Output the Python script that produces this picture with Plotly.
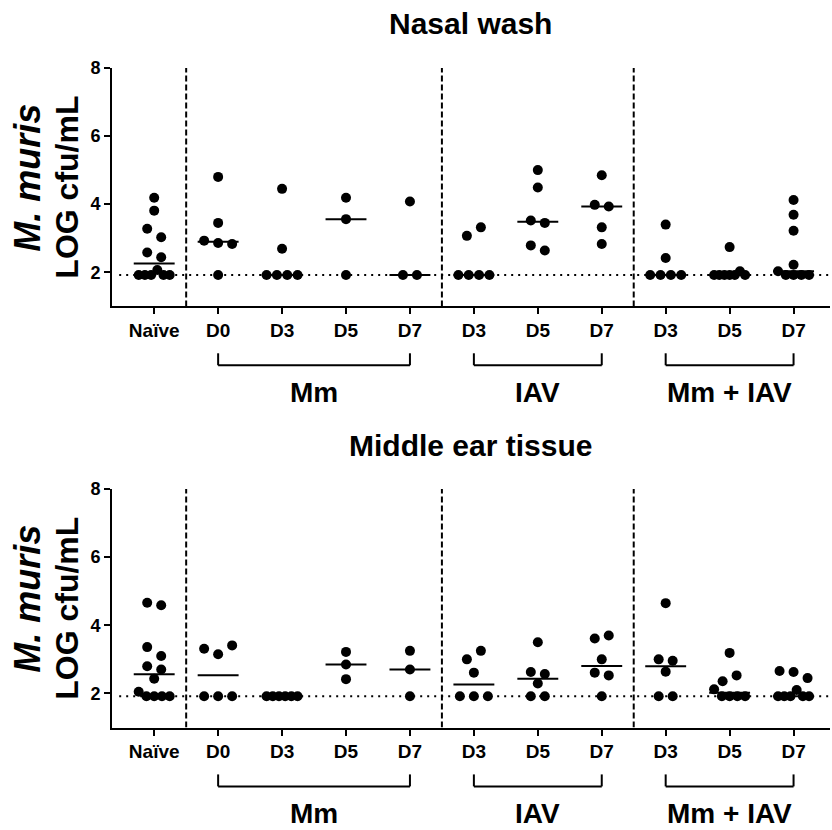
import numpy as np
import plotly.graph_objects as go

# ---------------- data ----------------
LOD = 1.92
categories = ["Naïve", "D0", "D3", "D5", "D7", "D3", "D5", "D7", "D3", "D5", "D7"]
group_labels = ["Mm", "IAV", "Mm + IAV"]
group_spans = [(1, 4), (5, 7), (8, 10)]
separators = [0.5, 4.5, 7.5]
panel_titles = ["Nasal wash", "Middle ear tissue"]
y_ticks = [2, 4, 6, 8]

# Nasal wash (log cfu/mL), listed left-to-right within each dot row
nw_naive = [1.92, 1.92, 1.92, 2.07, 1.92, 1.92, 2.58, 2.44, 3.28, 3.03, 3.81, 4.19]
nw_mm_d0 = [1.92, 2.93, 2.86, 2.83, 3.45, 4.80]
nw_mm_d3 = [1.92, 1.92, 1.92, 1.92, 2.69, 4.45]
nw_mm_d5 = [1.92, 3.56, 4.19]
nw_mm_d7 = [1.92, 1.92, 4.08]
nw_iav_d3 = [1.92, 1.92, 1.92, 1.92, 3.07, 3.32]
nw_iav_d5 = [2.79, 2.64, 3.52, 3.45, 4.49, 5.00]
nw_iav_d7 = [2.83, 3.32, 3.98, 3.93, 4.85]
nw_mi_d3 = [1.92, 1.92, 1.92, 1.92, 2.42, 3.40]
nw_mi_d5 = [1.92, 1.92, 1.92, 1.92, 1.92, 2.03, 1.92, 2.74]
nw_mi_d7 = [2.03, 1.92, 1.92, 1.92, 1.92, 2.22, 3.22, 3.69, 4.12]

# Middle ear tissue (log cfu/mL)
me_naive = [2.05, 1.92, 1.92, 1.92, 1.92, 2.43, 2.80, 2.70, 3.36, 3.10, 4.66, 4.59]
me_mm_d0 = [1.92, 1.92, 1.92, 3.31, 3.15, 3.41]
me_mm_d3 = [1.92, 1.92, 1.92, 1.92, 1.92, 1.92]
me_mm_d5 = [3.22, 2.42, 2.85]
me_mm_d7 = [1.92, 2.70, 3.25]
me_iav_d3 = [3.00, 3.25, 2.61, 1.92, 1.92, 1.92]
me_iav_d5 = [2.29, 2.63, 2.57, 3.50, 1.92, 1.92]
me_iav_d7 = [3.61, 3.70, 3.00, 2.61, 2.53, 1.92]
me_mi_d3 = [3.00, 2.96, 2.64, 1.92, 1.92, 4.65]
me_mi_d5 = [2.12, 1.92, 1.92, 1.92, 1.92, 2.36, 2.53, 3.19]
me_mi_d7 = [1.92, 1.92, 1.92, 2.10, 1.92, 1.92, 2.66, 2.63, 2.45]

nasal_wash = [nw_naive, nw_mm_d0, nw_mm_d3, nw_mm_d5, nw_mm_d7, nw_iav_d3,
              nw_iav_d5, nw_iav_d7, nw_mi_d3, nw_mi_d5, nw_mi_d7]
middle_ear = [me_naive, me_mm_d0, me_mm_d3, me_mm_d5, me_mm_d7, me_iav_d3,
              me_iav_d5, me_iav_d7, me_mi_d3, me_mi_d5, me_mi_d7]
panels = [nasal_wash, middle_ear]

# ---------------- layout geometry ----------------
W, H = 832, 830
X_PX = (112, 830)
X_RANGE = [-0.66, 10.57]
Y_RANGE = [1, 8]
Y_PX = [(66, 305), (488, 727)]          # top/bottom pixel rows of each plot
PANEL_SHIFT = 422
FONT = "Liberation Sans, Arial, Helvetica, sans-serif"
PX_PER_CAT = (X_PX[1] - X_PX[0]) / (X_RANGE[1] - X_RANGE[0])


def py(px):
    # small empirical correction of the vertical placement
    adj = (px - 8) / 0.99
    return 1 - adj / H


def px_x(px):
    return px / W


def swarm_offsets(values, tol=0.265, max_step=14.0, max_half=15.5):
    """Prism-like row spreading: nearby values share a row, spread symmetrically."""
    n = len(values)
    order = sorted(range(n), key=lambda i: values[i])
    rows = []
    for i in order:
        if rows and values[i] - values[rows[-1][0]] <= tol + 1e-9:
            rows[-1].append(i)
        else:
            rows.append([i])
    offs = [0.0] * n
    for r in rows:
        k = len(r)
        if k == 1:
            continue
        step = min(max_step, 2 * max_half / (k - 1))
        for j, i in enumerate(sorted(r)):
            offs[i] = (j - (k - 1) / 2) * step
    return offs


fig = go.Figure()
shapes = []
annotations = []

for p, groups in enumerate(panels):
    xa = "x" if p == 0 else "x2"
    ya = "y" if p == 0 else "y2"
    xs, ys, mx, my = [], [], [], []
    for gi, vals in enumerate(groups):
        offs = swarm_offsets(vals)
        for v, o in zip(vals, offs):
            xs.append(gi + o / PX_PER_CAT)
            ys.append(v)
        med = float(np.median(vals))
        mx += [gi - 0.32, gi + 0.32, None]
        my += [med, med, None]
    # limit of detection dotted line
    shapes.append(dict(type="line", xref=f"{xa} domain", yref=ya, x0=0.01, x1=1,
                       y0=LOD, y1=LOD, line=dict(color="black", width=2, dash="2px,5px")))
    # group separators
    for s in separators:
        shapes.append(dict(type="line", xref=xa, yref=ya, x0=s, x1=s, y0=Y_RANGE[0], y1=Y_RANGE[1],
                           line=dict(color="black", width=2, dash="6px,3px")))
    fig.add_trace(go.Scatter(x=mx, y=my, mode="lines", xaxis=xa, yaxis=ya,
                             line=dict(color="black", width=2), hoverinfo="skip",
                             showlegend=False))
    fig.add_trace(go.Scatter(x=xs, y=ys, mode="markers", xaxis=xa, yaxis=ya,
                             marker=dict(color="black", size=10, line=dict(width=0)),
                             showlegend=False))

    off = p * PANEL_SHIFT
    # brackets + group labels
    for (a, b), lab in zip(group_spans, group_labels):
        yb = py(364 + off)
        yt = py(352 + off)
        lw = dict(color="black", width=2)
        shapes.append(dict(type="line", xref=xa, yref="paper", x0=a, x1=b, y0=yb, y1=yb, line=lw))
        shapes.append(dict(type="line", xref=xa, yref="paper", x0=a, x1=a, y0=yb, y1=yt, line=lw))
        shapes.append(dict(type="line", xref=xa, yref="paper", x0=b, x1=b, y0=yb, y1=yt, line=lw))
        annotations.append(dict(text=f"<b>{lab}</b>", xref=xa, yref="paper", x=(a + b) / 2,
                                y=py(391 + off), showarrow=False, xanchor="center",
                                yanchor="middle", font=dict(family=FONT, size=28, color="black")))
    # panel title
    annotations.append(dict(text=f"<b>{panel_titles[p]}</b>", xref="paper", yref="paper",
                            x=px_x(470), y=py(22 + off), showarrow=False, xanchor="center",
                            yanchor="middle", font=dict(family=FONT, size=30, color="black")))
    # y-axis title (two lines)
    annotations.append(dict(text="<b><i>M. muris</i></b>", xref="paper", yref="paper",
                            x=px_x(28), y=py(176 + off), showarrow=False, textangle=-90,
                            xanchor="center", yanchor="middle",
                            font=dict(family=FONT, size=36, color="black")))
    annotations.append(dict(text="<b>LOG cfu/mL</b>", xref="paper", yref="paper",
                            x=px_x(67), y=py(186 + off), showarrow=False, textangle=-90,
                            xanchor="center", yanchor="middle",
                            font=dict(family=FONT, size=32, color="black")))

axis_common = dict(showline=True, linecolor="black", linewidth=2, ticks="outside",
                   tickwidth=2, tickcolor="black", showgrid=False, zeroline=False)
xdom = [X_PX[0] / W, X_PX[1] / W]
xaxis_cfg = dict(axis_common, domain=xdom, range=X_RANGE, tickmode="array",
                 tickvals=list(range(len(categories))), ticktext=categories, ticklen=6,
                 tickfont=dict(family=FONT, size=19, color="black", weight="bold"))
yaxis_cfg = dict(axis_common, range=Y_RANGE, tickmode="array", tickvals=y_ticks, ticklen=6,
                 tickfont=dict(family=FONT, size=18, color="black", weight="bold"))

fig.update_layout(
    width=W, height=H, margin=dict(l=0, r=0, t=0, b=0),
    paper_bgcolor="white", plot_bgcolor="white",
    xaxis=dict(xaxis_cfg, anchor="y"),
    yaxis=dict(yaxis_cfg, anchor="x", domain=[py(Y_PX[0][1]), py(Y_PX[0][0])]),
    xaxis2=dict(xaxis_cfg, anchor="y2"),
    yaxis2=dict(yaxis_cfg, anchor="x2", domain=[py(Y_PX[1][1]), py(Y_PX[1][0])]),
    shapes=shapes, annotations=annotations, showlegend=False,
)

fig.write_html("out.html", config={"displayModeBar": False},
               post_script="document.body.style.margin='0px';")
